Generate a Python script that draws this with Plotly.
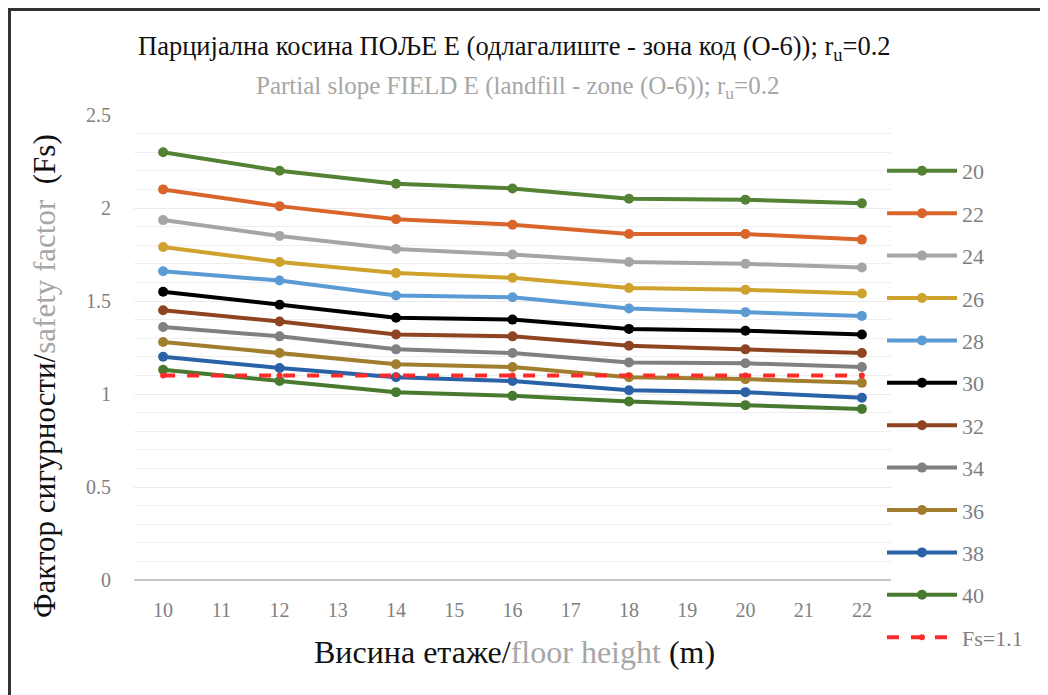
import plotly.graph_objects as go

floor_height = [10, 12, 14, 16, 18, 20, 22]
series_names = ["20", "22", "24", "26", "28", "30", "32", "34", "36", "38", "40"]
s20 = [2.30, 2.20, 2.13, 2.105, 2.05, 2.045, 2.025]
s22 = [2.10, 2.01, 1.94, 1.91, 1.86, 1.86, 1.83]
s24 = [1.935, 1.85, 1.78, 1.75, 1.71, 1.70, 1.68]
s26 = [1.79, 1.71, 1.65, 1.625, 1.57, 1.56, 1.54]
s28 = [1.66, 1.61, 1.53, 1.52, 1.46, 1.44, 1.42]
s30 = [1.55, 1.48, 1.41, 1.40, 1.35, 1.34, 1.32]
s32 = [1.45, 1.39, 1.32, 1.31, 1.26, 1.24, 1.22]
s34 = [1.36, 1.31, 1.24, 1.22, 1.17, 1.165, 1.145]
s36 = [1.28, 1.22, 1.16, 1.145, 1.09, 1.08, 1.06]
s38 = [1.20, 1.14, 1.09, 1.07, 1.02, 1.01, 0.98]
s40 = [1.13, 1.07, 1.01, 0.99, 0.96, 0.94, 0.92]
fs_limit = [1.1, 1.1, 1.1, 1.1, 1.1, 1.1, 1.1]
x_ticks = list(range(10, 23))
y_ticks = [0, 0.5, 1, 1.5, 2, 2.5]
y_tick_labels = ["0", "0.5", "1", "1.5", "2", "2.5"]

all_series = [s20, s22, s24, s26, s28, s30, s32, s34, s36, s38, s40]
colors = ["#548235", "#D9652B", "#A5A5A5", "#CFA22E", "#5B9BD5", "#000000",
          "#8E4420", "#808080", "#A17E2E", "#2A62A8", "#477A2E"]

FONT = "Liberation Serif"
fig = go.Figure()
for i, (name, vals, c) in enumerate(zip(series_names, all_series, colors)):
    fig.add_trace(go.Scatter(
        x=floor_height, y=vals, name=name, mode="lines+markers",
        line=dict(color=c, width=4), marker=dict(color=c, size=10),
        legendgroup="g%d" % i,
    ))
fig.add_trace(go.Scatter(
    x=floor_height, y=fs_limit, name="Fs=1.1", mode="lines+markers",
    line=dict(color="#FF2A2A", width=4, dash="dash"),
    marker=dict(color="#FF2A2A", size=6), legendgroup="gfs",
))

# page has 8px body margin: figure occupies (8..1048, 8..695) of the window
W, H = 1040, 687
OFF = 8
L, R, T, B = 126, 157, 107, 115
PW, PH = W - L - R, H - T - B

def px(x):
    return (x - OFF - L) / PW

def py(y):
    return (H - B - (y - OFF)) / PH

fig.update_layout(
    width=W, height=H,
    margin=dict(l=L, r=R, t=T, b=B, autoexpand=False),
    paper_bgcolor="white", plot_bgcolor="white",
    font=dict(family=FONT, color="#7F7F7F"),
    showlegend=True,
    legend=dict(x=px(882), y=py(150), xanchor="left", yanchor="top",
                font=dict(family=FONT, size=22, color="#7F7F7F"),
                tracegroupgap=10.8, itemwidth=70, traceorder="grouped",
                maxheight=620, bgcolor="rgba(0,0,0,0)"),
    xaxis=dict(range=[9.5, 22.5], tickmode="array", tickvals=x_ticks,
               ticktext=[str(v) for v in x_ticks], showgrid=False,
               zeroline=False, showline=False, ticks="",
               ticklabelstandoff=16,
               tickfont=dict(family=FONT, size=20, color="#7F7F7F")),
    yaxis=dict(range=[0, 2.5], tickmode="array", tickvals=y_ticks,
               ticktext=y_tick_labels, showgrid=True, gridcolor="#EBEBEB",
               gridwidth=1, zeroline=True, zerolinecolor="#C8C8C8",
               zerolinewidth=2, showline=False, ticks="",
               minor=dict(dtick=0.1, showgrid=True, gridcolor="#EFEFEF", gridwidth=1),
               tickfont=dict(family=FONT, size=20, color="#7F7F7F"),
               ticklabelstandoff=22),
)

common = dict(xref="paper", yref="paper", showarrow=False,
              xanchor="center", yanchor="middle")
fig.add_annotation(x=px(514), y=py(48),
                   text="Парцијална косина ПОЉЕ Е (одлагалиште - зона код (О-6)); r<sub>u</sub>=0.2",
                   font=dict(family=FONT, size=26.5, color="#111111"), **common)
fig.add_annotation(x=px(517), y=py(88),
                   text="Partial slope FIELD E (landfill - zone (O-6)); r<sub>u</sub>=0.2",
                   font=dict(family=FONT, size=25, color="#A6A6A6"), **common)
fig.add_annotation(x=px(44), y=py(376), textangle=-90,
                   text="Фактор сигурности/<span style='color:#A6A6A6'>safety factor</span>  (Fs)",
                   font=dict(family=FONT, size=31, color="#111111"), **common)
fig.add_annotation(x=px(514), y=py(652),
                   text="Висина етаже/<span style='color:#A6A6A6'>floor height</span> (m)",
                   font=dict(family=FONT, size=32, color="#111111"), **common)

fig.add_shape(type="line", xref="paper", yref="paper", x0=px(8), x1=px(1048),
              y0=py(9.5), y1=py(9.5), line=dict(color="#333333", width=3))
fig.add_shape(type="line", xref="paper", yref="paper", x0=px(9.5), x1=px(9.5),
              y0=py(9), y1=py(695), line=dict(color="#333333", width=3))

fig.write_html("out.html")
